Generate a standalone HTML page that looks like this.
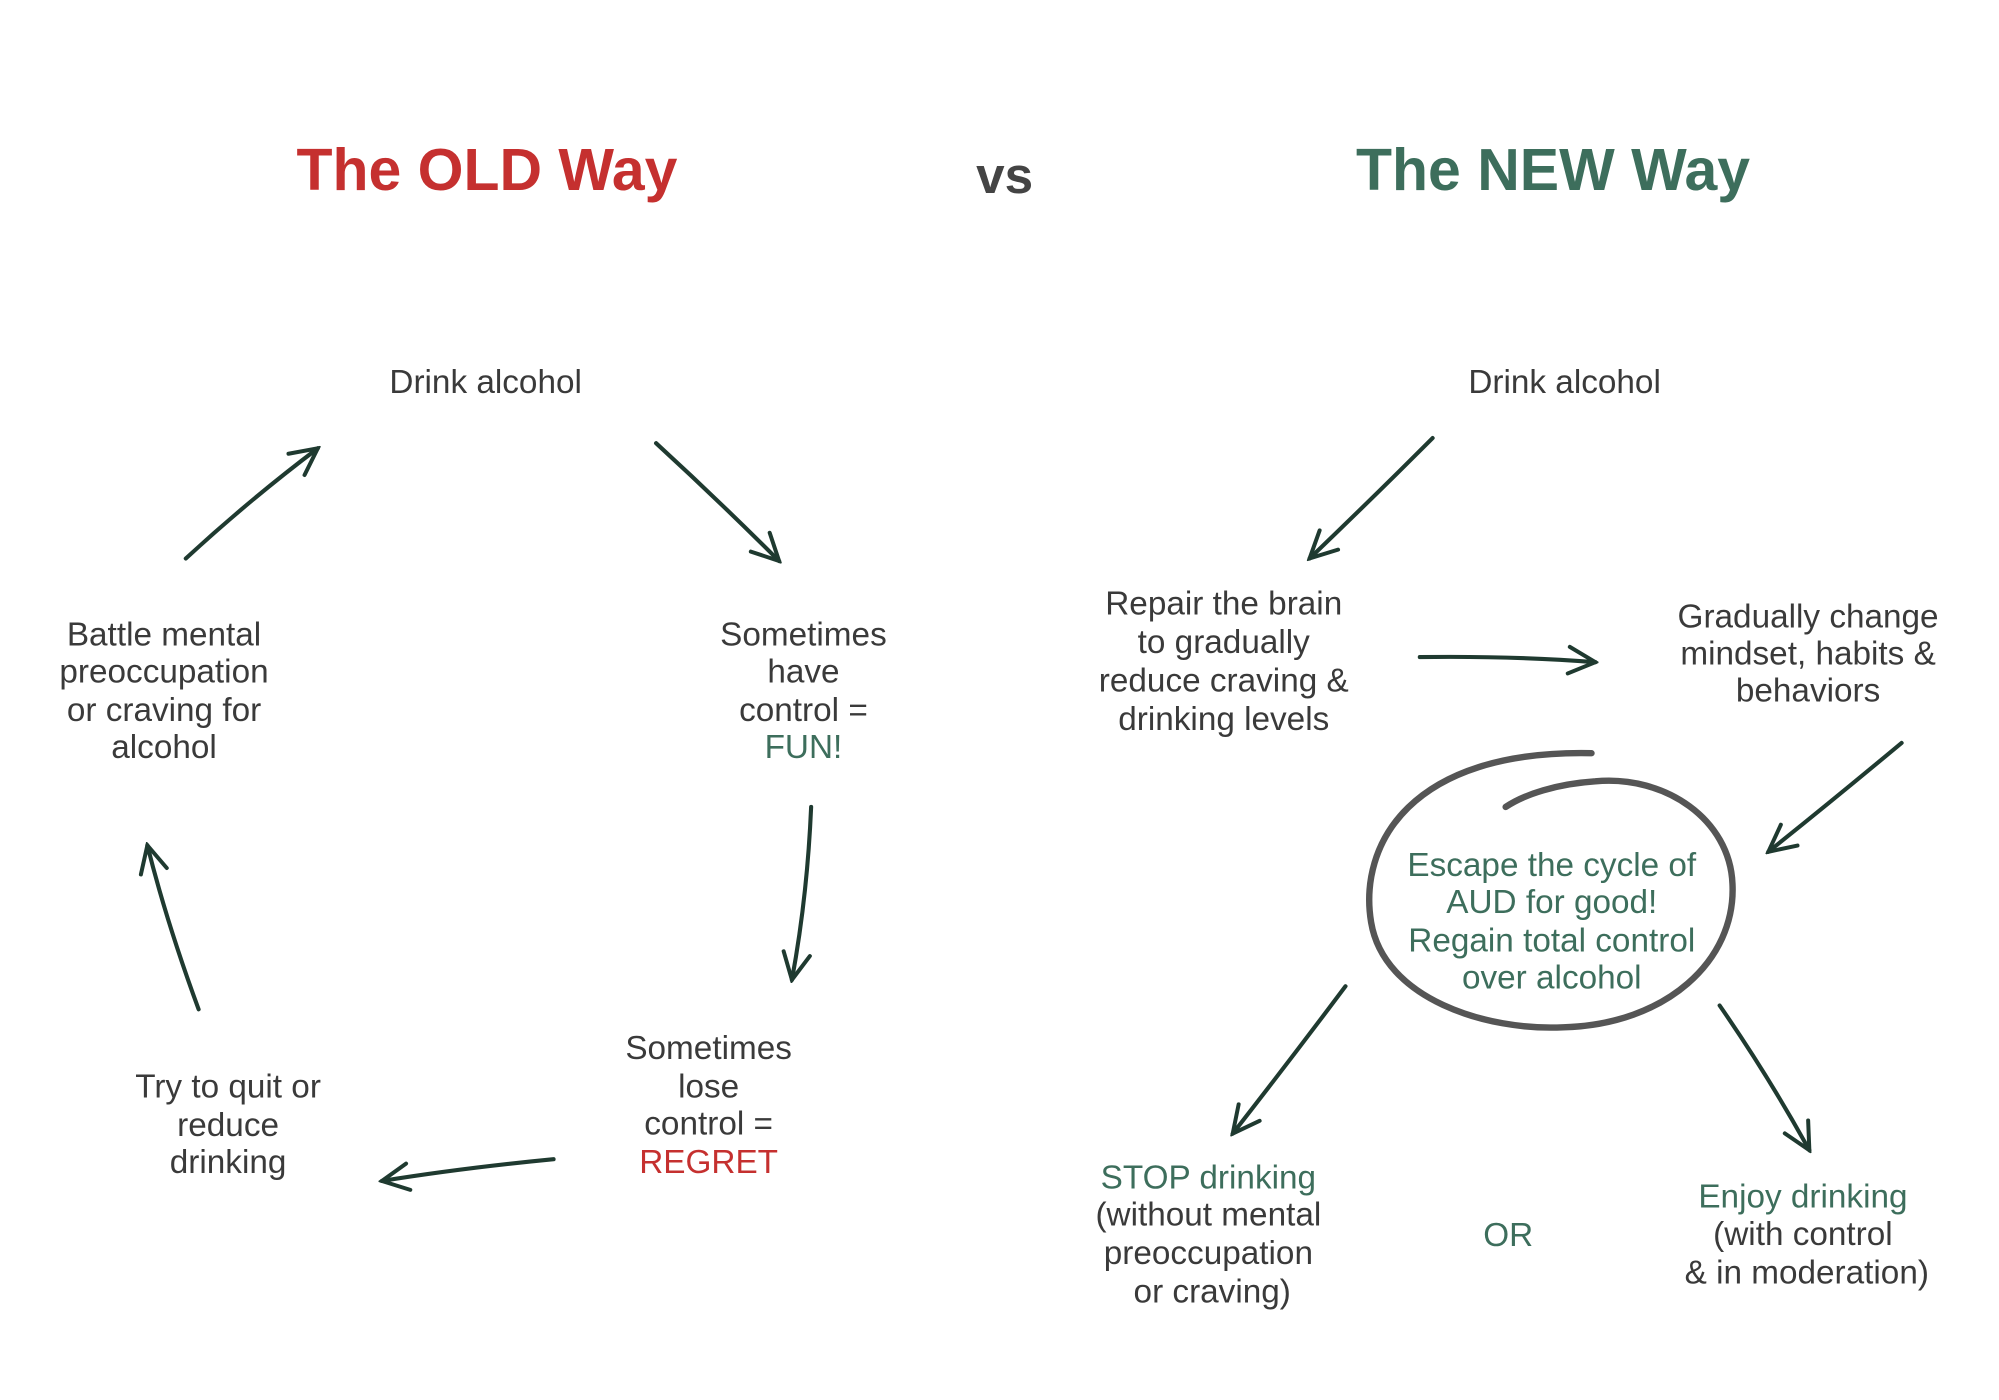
<!DOCTYPE html>
<html><head><meta charset="utf-8"><style>
html,body{margin:0;padding:0;background:#fff;}
svg{display:block;}
text{font-family:"Liberation Sans",sans-serif;text-anchor:middle;dominant-baseline:middle;}
.t{font-size:26px;fill:#3a3a3a;}
.g{fill:#3d6e5c;}
.r{fill:#c5302f;}
.a{stroke:#1f3a30;stroke-width:3.2;fill:none;stroke-linecap:round;marker-end:url(#h);}
</style></head><body>
<svg width="1999" height="1400" viewBox="0 0 1560 1093" preserveAspectRatio="none" xmlns="http://www.w3.org/2000/svg">
<defs>
<marker id="h" viewBox="0 0 20 20" refX="18" refY="10" markerWidth="26" markerHeight="26" markerUnits="userSpaceOnUse" orient="auto">
<path d="M2,2 L18,10 L2,18" fill="none" stroke="#1f3a30" stroke-width="2.4" stroke-linecap="round"/>
</marker>
</defs>
<rect width="1560" height="1093" fill="#fff"/>
<text x="380" y="136" style="font-size:46px;font-weight:bold" class="r">The OLD Way</text>
<text x="784" y="140" style="font-size:40px;font-weight:bold;fill:#444">vs</text>
<text x="1212" y="136" style="font-size:46px;font-weight:bold" class="g">The NEW Way</text>

<text class="t" x="379" y="300">Drink alcohol</text>
<text class="t" x="627" y="497">Sometimes</text>
<text class="t" x="627" y="526">have</text>
<text class="t" x="627" y="556">control =</text>
<text class="t g" x="627" y="585">FUN!</text>
<text class="t" x="553" y="820">Sometimes</text>
<text class="t" x="553" y="850">lose</text>
<text class="t" x="553" y="879">control =</text>
<text class="t r" x="553" y="909">REGRET</text>
<text class="t" x="178" y="850">Try to quit or</text>
<text class="t" x="178" y="880">reduce</text>
<text class="t" x="178" y="909">drinking</text>
<text class="t" x="128" y="497">Battle mental</text>
<text class="t" x="128" y="526">preoccupation</text>
<text class="t" x="128" y="556">or craving for</text>
<text class="t" x="128" y="585">alcohol</text>

<path class="a" d="M512,346 Q560,390 608,438"/>
<path class="a" d="M633,630 Q630,700 618,765"/>
<path class="a" d="M432,905 Q360,912 298,922"/>
<path class="a" d="M155,788 Q130,720 115,660"/>
<path class="a" d="M145,436 Q195,390 248,350"/>

<text class="t" x="1221" y="300">Drink alcohol</text>
<text class="t" x="955" y="473">Repair the brain</text>
<text class="t" x="955" y="503">to gradually</text>
<text class="t" x="955" y="533">reduce craving &amp;</text>
<text class="t" x="955" y="563">drinking levels</text>
<text class="t" x="1411" y="483">Gradually change</text>
<text class="t" x="1411" y="512">mindset, habits &amp;</text>
<text class="t" x="1411" y="541">behaviors</text>

<path d="M1242,588 C1100,585 1060,660 1070,720 C1080,780 1160,805 1220,802 C1300,800 1355,750 1352,690 C1350,640 1300,605 1245,610 C1215,612 1190,620 1175,630" fill="none" stroke="#555" stroke-width="5" stroke-linecap="round"/>
<text class="t g" x="1211" y="677">Escape the cycle of</text>
<text class="t g" x="1211" y="706">AUD for good!</text>
<text class="t g" x="1211" y="736">Regain total control</text>
<text class="t g" x="1211" y="765">over alcohol</text>

<path class="a" d="M1118,342 Q1070,390 1022,436"/>
<path class="a" d="M1108,513 Q1180,512 1245,517"/>
<path class="a" d="M1484,580 Q1430,625 1380,665"/>
<path class="a" d="M1050,770 Q1005,830 962,885"/>
<path class="a" d="M1342,785 Q1380,840 1412,898"/>

<text class="t g" x="943" y="921">STOP drinking</text>
<text class="t" x="943" y="950">(without mental</text>
<text class="t" x="943" y="980">preoccupation</text>
<text class="t" x="946" y="1010">or craving)</text>
<text class="t g" x="1177" y="966">OR</text>
<text class="t g" x="1407" y="936">Enjoy drinking</text>
<text class="t" x="1407" y="965">(with control</text>
<text class="t" x="1410" y="995">&amp; in moderation)</text>
</svg>
</body></html>
